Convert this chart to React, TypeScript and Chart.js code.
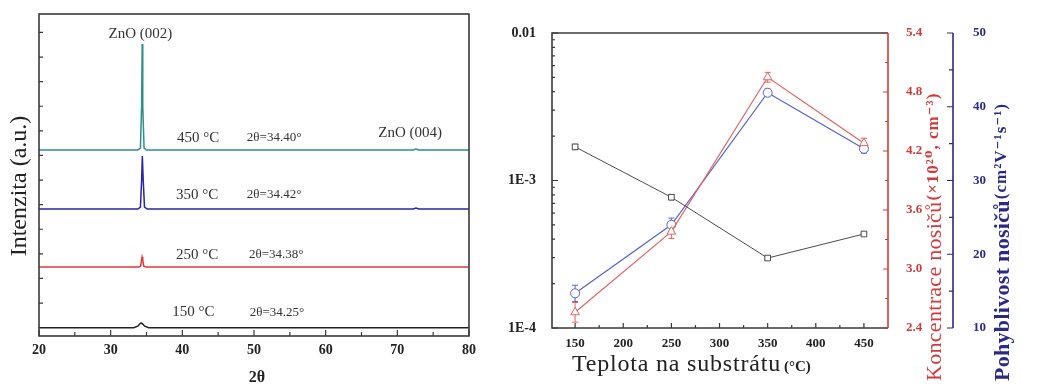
import React, { useEffect, useRef } from "react";
import { Chart, registerables } from "chart.js";

Chart.register(...registerables);

const SERIF = '"Liberation Serif", "DejaVu Serif", serif';

// ---------- Left chart: XRD patterns ----------
const xrdXTicks = [20, 30, 40, 50, 60, 70, 80];
const xrdXMinorTicks = [25, 35, 45, 55, 65, 75];
const xrdYTicks = [1, 2, 3, 4, 5, 6, 7, 8, 9, 10, 11, 12];

const trace150Theta = [20, 33.2, 33.8, 34.05, 34.25, 34.45, 34.75, 35.3, 80];
const trace150I = [0, 0, 0.06, 0.15, 0.19, 0.15, 0.06, 0, 0];
const trace250Theta = [20, 33.9, 34.18, 34.3, 34.38, 34.48, 34.62, 34.95, 80];
const trace250I = [2.46, 2.46, 2.5, 2.74, 2.87, 2.74, 2.5, 2.46, 2.46];
const trace350Theta = [20, 33.8, 34.15, 34.32, 34.42, 34.54, 34.72, 35.1, 72.2, 72.6, 73.0, 80];
const trace350I = [4.82, 4.82, 4.9, 6.0, 6.98, 6.0, 4.9, 4.82, 4.82, 4.86, 4.82, 4.82];
const trace450Theta = [20, 33.8, 34.15, 34.32, 34.4, 34.48, 34.66, 35.0, 72.2, 72.6, 73.0, 80];
const trace450I = [7.22, 7.22, 7.3, 9.0, 11.53, 9.0, 7.3, 7.22, 7.22, 7.26, 7.22, 7.22];

const tempLabels = ["450 °C", "350 °C", "250 °C", "150 °C"];
const peakLabels = ["2θ=34.40°", "2θ=34.42°", "2θ=34.38°", "2θ=34.25°"];

// ---------- Right chart: electrical properties ----------
const temps = [150, 250, 350, 450];
const resistivity = [1.69e-3, 7.7e-4, 2.98e-4, 4.34e-4];
const resistivityErr = [0.07e-3, 0.3e-4, 0.08e-4, 0.1e-4];
const concentration = [2.56, 3.38, 4.95, 4.28];
const concentrationErr = [0.1, 0.07, 0.05, 0.05];
const mobility = [14.7, 24.0, 41.9, 34.3];
const mobilityErr = [1.1, 0.9, 0.5, 0.6];

const tempTicks = [150, 200, 250, 300, 350, 400, 450];
const tempMinorTicks = [175, 225, 275, 325, 375, 425];
const logTickValues = [1e-4, 1e-3, 1e-2];
const logTickLabels = ["1E-4", "1E-3", "0.01"];
const logMinorTicks = [2e-4, 3e-4, 4e-4, 5e-4, 6e-4, 7e-4, 8e-4, 9e-4, 2e-3, 3e-3, 4e-3, 5e-3, 6e-3, 7e-3, 8e-3, 9e-3];
const concTicks = [2.4, 3.0, 3.6, 4.2, 4.8, 5.4];
const concMinorTicks = [2.7, 3.3, 3.9, 4.5, 5.1];
const mobTicks = [10, 20, 30, 40, 50];
const mobMinorTicks = [15, 25, 35, 45];

const RED = "#d23a3a";
const BLUE = "#2a2a86";

function zeroPad(s: any) {
  s.paddingLeft = 0;
  s.paddingRight = 0;
  s.paddingTop = 0;
  s.paddingBottom = 0;
}

const leftDecor = {
  id: "leftDecor",
  afterDraw(chart: any) {
    const { ctx, chartArea: a, scales } = chart;
    const x = scales.x;
    const y = scales.y;
    ctx.save();
    ctx.strokeStyle = "#3a3a3a";
    ctx.lineWidth = 1.6;
    ctx.strokeRect(a.left, a.top, a.right - a.left, a.bottom - a.top);
    ctx.lineWidth = 1.2;
    ctx.beginPath();
    xrdXTicks.forEach((v) => {
      const p = x.getPixelForValue(v);
      ctx.moveTo(p, a.bottom);
      ctx.lineTo(p, a.bottom - 6);
    });
    xrdXMinorTicks.forEach((v) => {
      const p = x.getPixelForValue(v);
      ctx.moveTo(p, a.bottom);
      ctx.lineTo(p, a.bottom - 4);
    });
    xrdYTicks.forEach((v) => {
      const p = y.getPixelForValue(v);
      ctx.moveTo(a.left, p);
      ctx.lineTo(a.left + 4, p);
    });
    ctx.stroke();

    ctx.fillStyle = "#333";
    ctx.textBaseline = "middle";
    ctx.font = `15px ${SERIF}`;
    ctx.textAlign = "center";
    ctx.fillText("ZnO (002)", x.getPixelForValue(34.16), y.getPixelForValue(11.93));
    ctx.fillText("ZnO (004)", x.getPixelForValue(71.8), y.getPixelForValue(7.91));

    const labelY = [7.71, 5.39, 2.95, 0.63];
    const tempX = [39.26, 39.1, 39.1, 38.6];
    const peakX = [49.0, 49.0, 49.3, 49.4];
    ctx.textAlign = "left";
    tempLabels.forEach((t, i) => {
      ctx.font = `15px ${SERIF}`;
      ctx.fillText(t, x.getPixelForValue(tempX[i]), y.getPixelForValue(labelY[i]));
      ctx.font = `13px ${SERIF}`;
      ctx.fillText(peakLabels[i], x.getPixelForValue(peakX[i]), y.getPixelForValue(labelY[i]));
    });

    ctx.font = `bold 16px ${SERIF}`;
    ctx.textAlign = "center";
    ctx.fillStyle = "#222";
    ctx.fillText("2θ", (a.left + a.right) / 2 + 3, 378);

    ctx.translate(20, 186);
    ctx.rotate(-Math.PI / 2);
    ctx.font = `24px ${SERIF}`;
    ctx.fillText("Intenzita (a.u.)", 0, 0);
    ctx.restore();
  },
};

const rightDecor = {
  id: "rightDecor",
  beforeDatasetsDraw(chart: any) {
    const { ctx } = chart;
    const errs = [resistivityErr, concentrationErr, mobilityErr];
    ctx.save();
    chart.data.datasets.forEach((ds: any, i: number) => {
      const meta = chart.getDatasetMeta(i);
      const sc = chart.scales[ds.yAxisID];
      ctx.strokeStyle = ds.borderColor;
      ctx.lineWidth = 1;
      ctx.beginPath();
      meta.data.forEach((pt: any, j: number) => {
        const v = ds.data[j];
        const e = errs[i][j];
        const y1 = sc.getPixelForValue(v - e);
        const y2 = sc.getPixelForValue(v + e);
        ctx.moveTo(pt.x, y1);
        ctx.lineTo(pt.x, y2);
        ctx.moveTo(pt.x - 3, y1);
        ctx.lineTo(pt.x + 3, y1);
        ctx.moveTo(pt.x - 3, y2);
        ctx.lineTo(pt.x + 3, y2);
      });
      ctx.stroke();
    });
    ctx.restore();
  },
  afterDraw(chart: any) {
    const { ctx, chartArea: a, scales } = chart;
    const x = scales.x;
    const yLog = scales.yLog;
    const yConc = scales.yConc;
    const yMob = scales.yMob;
    ctx.save();
    // frame
    ctx.lineWidth = 1.6;
    ctx.strokeStyle = "#3a3a3a";
    ctx.beginPath();
    ctx.moveTo(a.right, a.top);
    ctx.lineTo(a.left, a.top);
    ctx.lineTo(a.left, a.bottom);
    ctx.lineTo(a.right, a.bottom);
    ctx.stroke();
    ctx.strokeStyle = RED;
    ctx.beginPath();
    ctx.moveTo(a.right, a.top);
    ctx.lineTo(a.right, a.bottom);
    ctx.stroke();

    // bottom + left ticks
    ctx.lineWidth = 1.2;
    ctx.strokeStyle = "#3a3a3a";
    ctx.beginPath();
    tempTicks.forEach((v) => {
      const p = x.getPixelForValue(v);
      ctx.moveTo(p, a.bottom);
      ctx.lineTo(p, a.bottom - 5);
    });
    tempMinorTicks.forEach((v) => {
      const p = x.getPixelForValue(v);
      ctx.moveTo(p, a.bottom);
      ctx.lineTo(p, a.bottom - 3);
    });
    logTickValues.forEach((v) => {
      const p = yLog.getPixelForValue(v);
      ctx.moveTo(a.left, p);
      ctx.lineTo(a.left + 6, p);
    });
    logMinorTicks.forEach((v) => {
      const p = yLog.getPixelForValue(v);
      ctx.moveTo(a.left, p);
      ctx.lineTo(a.left + 3, p);
    });
    ctx.stroke();

    // red axis ticks
    ctx.strokeStyle = RED;
    ctx.beginPath();
    concTicks.forEach((v) => {
      const p = yConc.getPixelForValue(v);
      ctx.moveTo(a.right, p);
      ctx.lineTo(a.right - 5, p);
    });
    concMinorTicks.forEach((v) => {
      const p = yConc.getPixelForValue(v);
      ctx.moveTo(a.right, p);
      ctx.lineTo(a.right - 3, p);
    });
    ctx.stroke();

    // blue axis
    const bx = yMob.left;
    ctx.strokeStyle = BLUE;
    ctx.lineWidth = 1.6;
    ctx.beginPath();
    ctx.moveTo(bx, a.top);
    ctx.lineTo(bx, a.bottom);
    ctx.stroke();
    ctx.lineWidth = 1.2;
    ctx.beginPath();
    mobTicks.forEach((v) => {
      const p = yMob.getPixelForValue(v);
      ctx.moveTo(bx, p);
      ctx.lineTo(bx - 6, p);
    });
    mobMinorTicks.forEach((v) => {
      const p = yMob.getPixelForValue(v);
      ctx.moveTo(bx, p);
      ctx.lineTo(bx - 4, p);
    });
    ctx.stroke();

    // x title
    ctx.fillStyle = "#222";
    ctx.textBaseline = "alphabetic";
    ctx.textAlign = "left";
    ctx.font = `24px ${SERIF}`;
    (ctx as any).letterSpacing = "0.8px";
    ctx.fillText("Teplota na substrátu", 82, 371);
    const w1 = ctx.measureText("Teplota na substrátu").width;
    (ctx as any).letterSpacing = "0px";
    ctx.font = `bold 15px ${SERIF}`;
    ctx.fillText("(°C)", 82 + w1 + 3, 371);

    // red title
    ctx.save();
    ctx.translate(445, 381);
    ctx.rotate(-Math.PI / 2);
    ctx.textBaseline = "middle";
    ctx.fillStyle = RED;
    ctx.font = `22px ${SERIF}`;
    (ctx as any).letterSpacing = "0.3px";
    ctx.fillText("Koncentrace nosičů", 0, 0);
    const r1 = ctx.measureText("Koncentrace nosičů").width;
    ctx.font = `bold 17px ${SERIF}`;
    (ctx as any).letterSpacing = "1px";
    ctx.fillText("(×10²⁰, cm⁻³)", r1 + 1, -1);
    (ctx as any).letterSpacing = "0px";
    ctx.restore();

    // blue title
    ctx.save();
    ctx.translate(513, 381);
    ctx.rotate(-Math.PI / 2);
    ctx.textBaseline = "middle";
    ctx.fillStyle = BLUE;
    ctx.font = `bold 22px ${SERIF}`;
    (ctx as any).letterSpacing = "0.3px";
    ctx.fillText("Pohyblivost nosičů", 0, 0);
    const b1 = ctx.measureText("Pohyblivost nosičů").width;
    ctx.font = `bold 17px ${SERIF}`;
    (ctx as any).letterSpacing = "1px";
    ctx.fillText("(cm²V⁻¹s⁻¹)", b1 + 1, -1);
    (ctx as any).letterSpacing = "0px";
    ctx.restore();

    ctx.restore();
  },
};

function makeXrdDataset(theta: number[], inten: number[], color: string) {
  return {
    data: theta.map((t, i) => ({ x: t, y: inten[i] })),
    borderColor: color,
    borderWidth: 1.5,
    pointRadius: 0,
    tension: 0,
    fill: false,
  };
}

export default function App() {
  const leftRef = useRef<HTMLCanvasElement | null>(null);
  const rightRef = useRef<HTMLCanvasElement | null>(null);

  useEffect(() => {
    const left = new Chart(leftRef.current as HTMLCanvasElement, {
      type: "line",
      data: {
        datasets: [
          makeXrdDataset(trace150Theta, trace150I, "#222222"),
          makeXrdDataset(trace250Theta, trace250I, "#e03a3a"),
          makeXrdDataset(trace350Theta, trace350I, "#2626a8"),
          makeXrdDataset(trace450Theta, trace450I, "#2e8f8a"),
        ] as any,
      },
      options: {
        animation: false,
        responsive: false,
        devicePixelRatio: 1,
        layout: { padding: { top: 14, right: 21, left: 0, bottom: 0 } },
        plugins: { legend: { display: false }, tooltip: { enabled: false } },
        scales: {
          x: {
            type: "linear",
            min: 20,
            max: 80,
            grid: { display: false },
            border: { display: false },
            afterBuildTicks: (s: any) => {
              s.ticks = xrdXTicks.map((v) => ({ value: v }));
            },
            afterFit: (s: any) => {
              s.height = 49;
              zeroPad(s);
            },
            ticks: {
              padding: -2,
              color: "#222",
              font: { family: SERIF, size: 14, weight: "bold" },
            },
          },
          y: {
            type: "linear",
            min: -0.34,
            max: 12.75,
            grid: { display: false },
            border: { display: false },
            ticks: { display: false },
            afterFit: (s: any) => {
              s.width = 39;
              zeroPad(s);
            },
          },
        },
      } as any,
      plugins: [leftDecor],
    });

    const right = new Chart(rightRef.current as HTMLCanvasElement, {
      type: "line",
      data: {
        labels: temps,
        datasets: [
          {
            data: resistivity,
            yAxisID: "yLog",
            borderColor: "#4a4a4a",
            borderWidth: 1,
            pointStyle: "rect",
            pointRadius: 4,
            pointBorderWidth: 1,
            pointBackgroundColor: "#ffffff",
            pointBorderColor: "#4a4a4a",
          },
          {
            data: concentration,
            yAxisID: "yConc",
            borderColor: "#e06464",
            borderWidth: 1.2,
            pointStyle: "triangle",
            pointRadius: 5,
            pointBorderWidth: 1,
            pointBackgroundColor: "#ffffff",
            pointBorderColor: "#e06464",
          },
          {
            data: mobility,
            yAxisID: "yMob",
            borderColor: "#5563c8",
            borderWidth: 1.2,
            pointStyle: "circle",
            pointRadius: 4.5,
            pointBorderWidth: 1,
            pointBackgroundColor: "#ffffff",
            pointBorderColor: "#5563c8",
          },
        ] as any,
      },
      options: {
        animation: false,
        responsive: false,
        devicePixelRatio: 1,
        layout: { padding: { top: 33, right: 0, left: 0, bottom: 0 } },
        plugins: { legend: { display: false }, tooltip: { enabled: false } },
        scales: {
          x: {
            type: "linear",
            min: 126,
            max: 475,
            grid: { display: false },
            border: { display: false },
            afterBuildTicks: (s: any) => {
              s.ticks = tempTicks.map((v) => ({ value: v }));
            },
            afterFit: (s: any) => {
              s.height = 57;
              zeroPad(s);
            },
            ticks: {
              padding: 0,
              color: "#222",
              font: { family: SERIF, size: 13, weight: "bold" },
            },
          },
          yLog: {
            type: "logarithmic",
            position: "left",
            min: 1e-4,
            max: 1e-2,
            grid: { display: false },
            border: { display: false },
            afterBuildTicks: (s: any) => {
              s.ticks = logTickValues.map((v) => ({ value: v }));
            },
            afterFit: (s: any) => {
              s.width = 62;
              zeroPad(s);
            },
            ticks: {
              padding: 8,
              color: "#222",
              font: { family: SERIF, size: 14, weight: "bold" },
              callback: (v: any) => {
                const i = logTickValues.findIndex((t) => Math.abs(Math.log10(t) - Math.log10(v)) < 1e-6);
                return i >= 0 ? logTickLabels[i] : "";
              },
            },
          },
          yConc: {
            type: "linear",
            position: "right",
            weight: 1,
            min: 2.4,
            max: 5.4,
            grid: { display: false },
            border: { display: false },
            afterBuildTicks: (s: any) => {
              s.ticks = concTicks.map((v) => ({ value: v }));
            },
            afterFit: (s: any) => {
              s.width = 65;
              zeroPad(s);
            },
            ticks: {
              padding: 10,
              color: RED,
              font: { family: SERIF, size: 13, weight: "bold" },
              callback: (v: any) => Number(v).toFixed(1),
            },
          },
          yMob: {
            type: "linear",
            position: "right",
            weight: 2,
            min: 10,
            max: 50,
            grid: { display: false },
            border: { display: false },
            afterBuildTicks: (s: any) => {
              s.ticks = mobTicks.map((v) => ({ value: v }));
            },
            afterFit: (s: any) => {
              s.width = 102;
              zeroPad(s);
            },
            ticks: {
              padding: 12,
              color: BLUE,
              font: { family: SERIF, size: 13, weight: "bold" },
            },
          },
        },
      } as any,
      plugins: [rightDecor],
    });

    return () => {
      left.destroy();
      right.destroy();
    };
  }, []);

  return (
    <div
      style={{
        position: "fixed",
        left: 0,
        top: 0,
        width: 1055,
        height: 385,
        background: "#ffffff",
        overflow: "hidden",
      }}
    >
      <canvas
        ref={leftRef}
        width={490}
        height={385}
        style={{ position: "absolute", left: 0, top: 0, width: 490, height: 385 }}
      />
      <canvas
        ref={rightRef}
        width={565}
        height={385}
        style={{ position: "absolute", left: 490, top: 0, width: 565, height: 385 }}
      />
    </div>
  );
}
